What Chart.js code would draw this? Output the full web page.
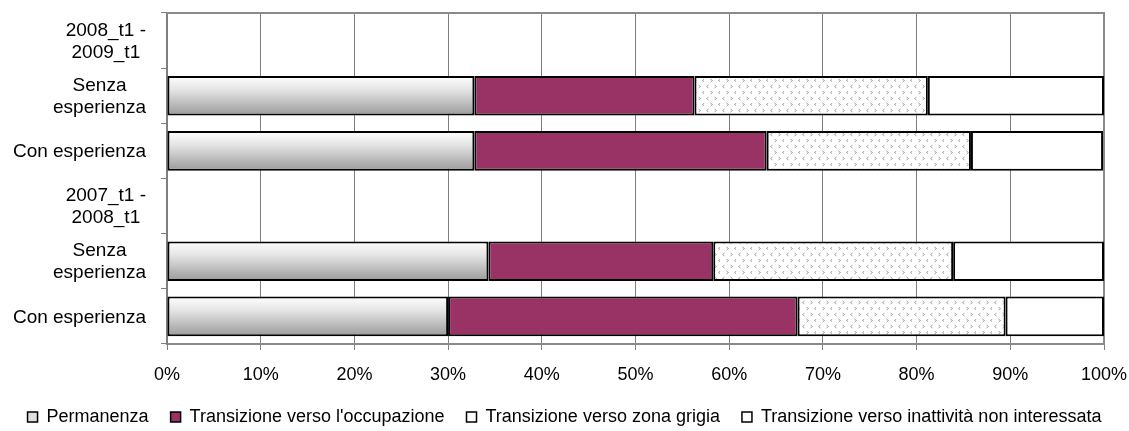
<!DOCTYPE html>
<html>
<head>
<meta charset="utf-8">
<script src="https://cdn.jsdelivr.net/npm/chart.js@4.4.1/dist/chart.umd.min.js"></script>
<style>
    html, body { margin: 0; padding: 0; background: #fff; }
    #wrap { width: 1129px; height: 431px; }
</style>
</head>
<body>
<div id="wrap"><canvas id="transChart"></canvas></div>
<script>
// ─── DATA ─────────────────────────────────────────────────────────────────────
const categories = [
    ['2008_t1 -', '2009_t1'],
    ['Senza', 'esperienza'],
    ['Con esperienza'],
    ['2007_t1 -', '2008_t1'],
    ['Senza', 'esperienza'],
    ['Con esperienza'],
];

const permanenza  = [null, 32.8, 32.8, null, 34.3, 30.0];
const occupazione = [null, 23.5, 31.2, null, 24.0, 37.3];
const zonaGrigia  = [null, 24.9, 21.8, null, 25.6, 22.2];
const inattivita  = [null, 18.8, 14.1, null, 16.1, 10.5];

const seriesNames = [
    'Permanenza',
    "Transizione verso l'occupazione",
    'Transizione verso zona grigia',
    'Transizione verso inattività non interessata',
];

const xTicks = [0, 10, 20, 30, 40, 50, 60, 70, 80, 90, 100];

const FONT = "'Liberation Sans', Arial, sans-serif";
const BAR_PCT = 0.72;

// ─── FILLS ────────────────────────────────────────────────────────────────────
// dotted "< >" pattern for zona grigia
function makeDotPattern() {
    const c = document.createElement('canvas');
    c.width = 16; c.height = 12;
    const g = c.getContext('2d');
    g.fillStyle = '#fff';
    g.fillRect(0, 0, 16, 12);
    g.strokeStyle = '#a0a0a0';
    g.lineWidth = 1;
    const chev = (x, y, dir) => {
        g.beginPath();
        g.moveTo(x + (dir > 0 ? 0 : 2), y);
        g.lineTo(x + (dir > 0 ? 2 : 0), y + 1.5);
        g.lineTo(x + (dir > 0 ? 0 : 2), y + 3);
        g.stroke();
    };
    chev(2.5, 1, -1);  chev(10.5, 1, 1);
    chev(6.5, 7, 1);   chev(14.5, 7, -1);
    return g.createPattern(c, 'repeat');
}

// vertical white -> gray gradient per bar
function permanenzaFill(context) {
    const chart = context.chart;
    const y = chart.scales.y;
    if (!chart.chartArea || !y) return '#d0d0d0';
    const center = y.getPixelForValue(context.dataIndex);
    const half = (y.height / categories.length) * BAR_PCT / 2;
    const grad = chart.ctx.createLinearGradient(0, center - half, 0, center + half);
    grad.addColorStop(0, '#ffffff');
    grad.addColorStop(0.35, '#e4e4e4');
    grad.addColorStop(1, '#9a9a9a');
    return grad;
}

// ─── PLUGINS ──────────────────────────────────────────────────────────────────
const frameAndLabels = {
    id: 'frameAndLabels',
    beforeDatasetsDraw(chart) {
        const { ctx, chartArea: a } = chart;
        ctx.save();
        ctx.strokeStyle = '#8a8a8a';
        ctx.lineWidth = 2;
        ctx.beginPath();
        ctx.moveTo(a.left, a.top);
        ctx.lineTo(a.right, a.top);
        ctx.lineTo(a.right, a.bottom);
        ctx.stroke();
        ctx.restore();
    },
    afterDraw(chart) {
        const { ctx } = chart;
        const y = chart.scales.y;
        ctx.save();
        ctx.font = `19px ${FONT}`;
        ctx.fillStyle = '#000';
        ctx.textAlign = 'center';
        ctx.textBaseline = 'middle';
        const lineH = 22;
        const rightEdge = y.right - 21;
        categories.forEach((lines, i) => {
            const yc = y.getPixelForValue(i);
            const maxW = Math.max(...lines.map(l => ctx.measureText(l).width));
            const xc = rightEdge - maxW / 2;
            lines.forEach((l, k) => {
                ctx.fillText(l, xc, yc + 1 + (k - (lines.length - 1) / 2) * lineH);
            });
        });
        ctx.restore();
    },
};

// ─── CHART ────────────────────────────────────────────────────────────────────
const dotPattern = makeDotPattern();
const fills = [permanenzaFill, '#993366', dotPattern, '#ffffff'];
const legendFills = ['#e0e0e0', '#993366', '#ffffff', '#ffffff'];
const seriesData = [permanenza, occupazione, zonaGrigia, inattivita];

new Chart(document.getElementById('transChart'), {
    type: 'bar',
    data: {
        labels: categories.map(c => c.join(' ')),
        datasets: seriesData.map((d, i) => ({
            label: seriesNames[i],
            data: d,
            backgroundColor: fills[i],
            borderColor: '#000',
            borderWidth: 2,
            borderSkipped: false,
            barPercentage: BAR_PCT,
            categoryPercentage: 1,
        })),
    },
    plugins: [frameAndLabels],
    options: {
        indexAxis: 'y',
        responsive: true,
        maintainAspectRatio: false,
        animation: false,
        layout: { padding: { top: 13, right: 0, left: 0, bottom: -5 } },
        plugins: {
            tooltip: { enabled: false },
            legend: {
                position: 'bottom',
                labels: {
                    font: { family: FONT, size: 18 },
                    color: '#000',
                    boxWidth: 10,
                    boxHeight: 10,
                    padding: 22,
                    generateLabels: () => seriesNames.map((n, i) => ({
                        text: n,
                        fillStyle: legendFills[i],
                        strokeStyle: '#000',
                        lineWidth: 1.5,
                        hidden: false,
                        datasetIndex: i,
                    })),
                },
            },
        },
        scales: {
            x: {
                stacked: true,
                min: 0,
                max: 100,
                afterBuildTicks: (s) => { s.ticks = xTicks.map(v => ({ value: v })); },
                afterFit: (s) => { s.height = 42; s.paddingRight = 25; s.paddingLeft = 0; },
                grid: { color: '#7f7f7f', lineWidth: 1, tickLength: 6, drawTicks: true },
                border: { color: '#8a8a8a', width: 2 },
                ticks: {
                    color: '#000',
                    font: { family: FONT, size: 18 },
                    padding: 14,
                    maxRotation: 0,
                    callback: (v) => v + '%',
                },
            },
            y: {
                stacked: true,
                afterFit: (s) => { s.width = 167; },
                grid: { offset: true, drawOnChartArea: false, color: '#7f7f7f', tickLength: 6 },
                border: { color: '#7f7f7f', width: 2 },
                ticks: { display: false },
            },
        },
    },
});
</script>
</body>
</html>
